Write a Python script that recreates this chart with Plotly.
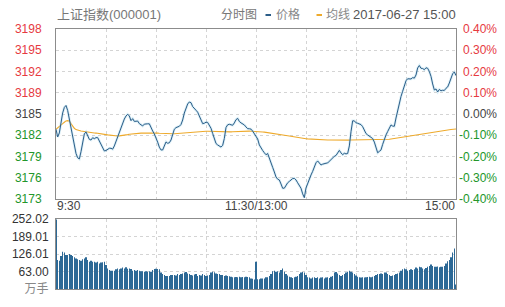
import pandas as pd
import plotly.graph_objects as go

# ---------------- data ----------------
prev_close = 3185.44
morning = pd.date_range("2017-06-27 09:30", "2017-06-27 11:30", freq="1min")
afternoon = pd.date_range("2017-06-27 13:01", "2017-06-27 15:00", freq="1min")
times = [t.strftime("%H:%M") for t in morning] + [t.strftime("%H:%M") for t in afternoon]

price = [
    3183.15, 3181.99, 3182.6, 3184.29, 3185.6, 3186.42, 3186.72, 3185.97, 3184.59, 3183.2,
    3181.77, 3180.54, 3179.52, 3178.88, 3178.7, 3179.79, 3181.47, 3182.45, 3182.75, 3182.3,
    3181.64, 3181.54, 3181.89, 3181.74, 3181.9, 3181.9, 3181.34, 3180.8, 3180.26, 3179.9,
    3179.97, 3180.2, 3180.3, 3180.3, 3180.17, 3180.65, 3181.35, 3182.07, 3182.82, 3183.45,
    3184.14, 3184.69, 3185.14, 3185.4, 3185.14, 3184.44, 3184.74, 3184.33, 3184.35, 3184.39,
    3184.0, 3183.8, 3183.65, 3183.92, 3184.0, 3183.97, 3183.97, 3183.54, 3182.9, 3182.45,
    3181.92, 3181.22, 3180.47, 3180.05, 3180.05, 3180.8, 3181.25, 3181.05, 3181.13, 3181.54,
    3182.25, 3183.16, 3183.4, 3183.52, 3183.6, 3183.87, 3184.54, 3185.59, 3186.46, 3186.94,
    3187.24, 3187.14, 3186.55, 3186.19, 3186.0, 3185.71, 3185.17, 3184.54, 3184.0, 3184.06,
    3184.21, 3184.17, 3183.8, 3183.3, 3182.52, 3181.7, 3181.02, 3180.8, 3180.59, 3180.48,
    3180.74, 3181.77, 3183.42, 3183.82, 3183.9, 3183.81, 3183.75, 3184.1, 3184.59, 3184.78,
    3184.32, 3184.11, 3184.0, 3183.8, 3183.5, 3183.24, 3183.23, 3183.17, 3182.87, 3182.54,
    3182.1,
    3181.7, 3180.8, 3180.27, 3179.97, 3179.63, 3179.33, 3179.52, 3178.92, 3178.14, 3177.44,
    3176.75, 3176.0, 3175.67, 3175.55, 3174.95, 3174.31, 3174.32, 3174.76, 3175.13, 3175.34,
    3175.55, 3175.76, 3175.8, 3175.55, 3175.13, 3174.71, 3174.31, 3173.47, 3172.9, 3174.35,
    3175.06, 3175.67, 3176.3, 3176.84, 3177.55, 3178.13, 3178.4, 3178.01, 3177.8, 3177.92,
    3178.03, 3178.06, 3178.1, 3178.35, 3178.65, 3178.91, 3179.1, 3179.22, 3179.55, 3179.99,
    3179.61, 3179.34, 3179.55, 3179.46, 3179.52, 3180.65, 3182.79, 3184.42, 3184.41, 3184.12,
    3184.05, 3183.96, 3183.85, 3183.54, 3182.96, 3182.51, 3182.3, 3182.09, 3181.98, 3181.76,
    3181.23, 3180.39, 3179.63, 3179.84, 3180.05, 3180.89, 3181.73, 3182.3, 3182.81, 3183.38,
    3183.8, 3183.63, 3183.6, 3184.84, 3185.89, 3187.3, 3188.07, 3188.85, 3189.64, 3190.42,
    3190.72, 3190.75, 3190.69, 3190.89, 3190.82, 3191.29, 3192.34, 3192.71, 3192.29, 3192.26,
    3192.08, 3192.37, 3192.29, 3191.81, 3191.08, 3189.94, 3189.04, 3189.19, 3188.74, 3189.12,
    3188.92, 3189.0, 3188.97, 3189.3, 3189.49, 3190.09, 3190.91, 3191.47, 3191.74, 3191.2,
]

avg_line = [
    3183.15, 3183.4, 3183.6, 3183.8, 3184.0, 3184.2, 3184.4, 3184.45, 3184.4, 3184.0,
    3183.6, 3183.3, 3183.1, 3183.0, 3182.92, 3182.88, 3182.85, 3182.8, 3182.77, 3182.72,
    3182.69, 3182.66, 3182.63, 3182.6, 3182.58, 3182.56, 3182.53, 3182.49, 3182.45, 3182.4,
    3182.35, 3182.31, 3182.27, 3182.23, 3182.2, 3182.17, 3182.15, 3182.15, 3182.16, 3182.18,
    3182.2, 3182.25, 3182.3, 3182.35, 3182.4, 3182.44, 3182.48, 3182.5, 3182.52, 3182.54,
    3182.56, 3182.58, 3182.59, 3182.6, 3182.61, 3182.62, 3182.62, 3182.62, 3182.62, 3182.61,
    3182.6, 3182.58, 3182.55, 3182.53, 3182.5, 3182.48, 3182.47, 3182.46, 3182.46, 3182.46,
    3182.47, 3182.48, 3182.5, 3182.52, 3182.54, 3182.57, 3182.6, 3182.64, 3182.68, 3182.72,
    3182.75, 3182.78, 3182.8, 3182.82, 3182.84, 3182.85, 3182.86, 3182.86, 3182.86, 3182.86,
    3182.86, 3182.85, 3182.84, 3182.83, 3182.81, 3182.79, 3182.77, 3182.75, 3182.73, 3182.71,
    3182.7, 3182.7, 3182.71, 3182.72, 3182.74, 3182.76, 3182.78, 3182.8, 3182.82, 3182.84,
    3182.85, 3182.86, 3182.87, 3182.87, 3182.87, 3182.87, 3182.87, 3182.86, 3182.86, 3182.85,
    3182.84,
    3182.82, 3182.8, 3182.78, 3182.75, 3182.72, 3182.69, 3182.66, 3182.63, 3182.6, 3182.56,
    3182.52, 3182.48, 3182.44, 3182.4, 3182.36, 3182.31, 3182.27, 3182.22, 3182.18, 3182.13,
    3182.09, 3182.05, 3182.01, 3181.97, 3181.93, 3181.89, 3181.85, 3181.81, 3181.77, 3181.74,
    3181.71, 3181.69, 3181.67, 3181.65, 3181.63, 3181.62, 3181.61, 3181.6, 3181.59, 3181.58,
    3181.57, 3181.56, 3181.55, 3181.55, 3181.54, 3181.54, 3181.54, 3181.54, 3181.54, 3181.53,
    3181.53, 3181.53, 3181.53, 3181.53, 3181.53, 3181.53, 3181.54, 3181.54, 3181.54, 3181.54,
    3181.54, 3181.54, 3181.54, 3181.54, 3181.54, 3181.54, 3181.54, 3181.54, 3181.54, 3181.54,
    3181.54, 3181.54, 3181.54, 3181.54, 3181.54, 3181.56, 3181.58, 3181.6, 3181.62, 3181.65,
    3181.69, 3181.73, 3181.77, 3181.82, 3181.87, 3181.92, 3181.97, 3182.02, 3182.07, 3182.12,
    3182.17, 3182.22, 3182.26, 3182.3, 3182.34, 3182.38, 3182.42, 3182.46, 3182.5, 3182.54,
    3182.58, 3182.62, 3182.66, 3182.7, 3182.74, 3182.78, 3182.81, 3182.84, 3182.87, 3182.9,
    3182.93, 3182.96, 3182.99, 3183.02, 3183.05, 3183.08, 3183.11, 3183.14, 3183.17, 3183.2,
]

volume = [
    250, 104, 102, 119, 134, 131, 122, 122, 126, 122,
    119, 114, 110, 107, 104, 102, 107, 110, 114, 104,
    98, 102, 98, 98, 95, 98, 92, 95, 96, 98,
    86, 74, 68, 66, 66, 66, 71, 74, 71, 74,
    77, 74, 78, 73, 74, 72, 66, 68, 66, 68,
    66, 64, 64, 62, 64, 62, 64, 62, 68, 72,
    73, 72, 71, 59, 54, 50, 47, 47, 47, 50,
    50, 50, 49, 54, 50, 54, 56, 59, 61, 56,
    54, 50, 49, 52, 54, 47, 50, 49, 54, 50,
    47, 49, 50, 59, 62, 60, 56, 54, 54, 50,
    50, 47, 49, 47, 46, 44, 42, 42, 43, 42,
    44, 42, 43, 42, 44, 43, 42, 38, 37, 34,
    98,
    35, 35, 38, 38, 38, 42, 42, 47, 54, 64,
    66, 62, 64, 59, 68, 74, 62, 54, 49, 44,
    42, 40, 42, 44, 47, 54, 59, 61, 59, 50,
    42, 41, 38, 41, 42, 40, 42, 38, 41, 42,
    38, 41, 42, 40, 44, 47, 59, 61, 56, 50,
    47, 50, 54, 59, 62, 66, 62, 59, 54, 49,
    44, 42, 41, 42, 41, 42, 43, 44, 42, 44,
    47, 50, 54, 54, 56, 54, 59, 59, 54, 50,
    47, 49, 50, 54, 56, 59, 66, 71, 74, 71,
    66, 68, 71, 68, 71, 77, 74, 80, 78, 74,
    71, 76, 80, 83, 88, 83, 80, 80, 81, 78,
    80, 80, 83, 92, 100, 104, 114, 131, 146, 16,
]

pct_steps = [4, 3, 2, 1, 0, -1, -2, -3, -4]          # in 0.1 %
price_labels = ["3198", "3195", "3192", "3189", "3185", "3182", "3179", "3176", "3173"]
pct_labels = ["0.40%", "0.30%", "0.20%", "0.10%", "0.00%", "-0.10%", "-0.20%", "-0.30%", "-0.40%"]
vol_max = 252.02
vol_labels = ["万手", "63.00", "126.01", "189.01", "252.02"]
time_labels = ["9:30", "11:30/13:00", "15:00"]
title_text = "上证指数(000001)"
chart_type = "分时图"
legend_price = "价格"
legend_avg = "均线"
stamp = "2017-06-27 15:00"

# ---------------- style ----------------
RED = "#e63a3f"
GREEN = "#22962a"
MID = "#444444"
PRICE_C = "#2b5d88"
AVG_C = "#eeaa2c"
VOL_C = "#2d6996"
FRAME = "#8c8c8c"
GRID = "#d4d4d4"
FONT = "Liberation Sans, Arial, Noto Sans CJK SC, sans-serif"

levels = [prev_close * (1 + s / 1000) for s in pct_steps]
lo, hi = levels[-1], levels[0]


def col(s):
    return RED if s > 0 else (GREEN if s < 0 else MID)


left_text = [f"<span style='color:{col(s)}'>{t}</span>" for s, t in zip(pct_steps, price_labels)]
vol_vals = [vol_max * k / 4 for k in range(5)]
vol_text = [f"<span style='color:#888'>{vol_labels[0]}</span>"] + [
    f"<span style='color:#333'>{t}</span>" for t in vol_labels[1:]
]

grid_ticks = [times[i] for i in range(0, len(times), 30)]

fig = go.Figure()
fig.add_trace(go.Scatter(x=times, y=avg_line, mode="lines",
                         line=dict(color=AVG_C, width=1.1), xaxis="x", yaxis="y",
                         hoverinfo="skip"))
fig.add_trace(go.Scatter(x=times, y=price, mode="lines",
                         line=dict(color="rgba(150,205,230,0.35)", width=2.6), xaxis="x", yaxis="y",
                         hoverinfo="skip"))
fig.add_trace(go.Scatter(x=times, y=price, mode="lines",
                         line=dict(color=PRICE_C, width=1), xaxis="x", yaxis="y"))
fig.add_trace(go.Bar(x=times, y=volume, marker=dict(color=VOL_C, line=dict(width=0)),
                     xaxis="x2", yaxis="y2"))

PW, PH, ML, MT, MB = 400, 260, 56, 29, 18


def px_x(px):
    return (px - ML) / PW


def px_y(py):
    return (MT + PH - py) / PH


axis_common = dict(showline=True, mirror=True, linecolor=FRAME, linewidth=1,
                   showgrid=True, gridcolor=GRID, griddash="3px,3px", gridwidth=1,
                   zeroline=False, ticks="", fixedrange=True)

fig.update_layout(
    width=505, height=307,
    margin=dict(l=ML, r=505 - ML - PW, t=MT, b=MB),
    paper_bgcolor="white", plot_bgcolor="white",
    showlegend=False, bargap=0.6,
    font=dict(family=FONT, size=12, color="#444"),
    xaxis=dict(axis_common, domain=[0, 1], anchor="y", type="category",
               range=[0, len(times) - 1], tickvals=grid_ticks, showticklabels=False),
    yaxis=dict(axis_common, domain=[px_y(199), 1], anchor="x", range=[lo, hi],
               tickvals=levels, ticktext=left_text, ticklabelstandoff=11,
               tickfont=dict(size=12)),
    xaxis2=dict(axis_common, domain=[0, 1], anchor="y2", type="category", matches="x",
                range=[0, len(times) - 1], tickvals=grid_ticks, showticklabels=False),
    yaxis2=dict(axis_common, domain=[0, px_y(219)], anchor="x2", range=[0, vol_max],
                tickvals=vol_vals, ticktext=vol_text, ticklabelstandoff=4,
                tickfont=dict(size=12)),
)

ann = []
# right-hand percentage labels
for s, t, lv in zip(pct_steps, pct_labels, levels):
    ann.append(dict(x=px_x(499), xref="paper", y=lv, yref="y", text=t, showarrow=False,
                    xanchor="right", yanchor="middle", font=dict(size=12, color=col(s))))
# time labels
ty = px_y(206)
ann.append(dict(x=times[0], xref="x", y=ty, yref="paper", text=time_labels[0], showarrow=False,
                xanchor="left", yanchor="middle", xshift=-1, font=dict(size=12, color="#444")))
ann.append(dict(x=times[120], xref="x", y=ty, yref="paper", text=time_labels[1], showarrow=False,
                xanchor="center", yanchor="middle", font=dict(size=12, color="#444")))
ann.append(dict(x=times[-1], xref="x", y=ty, yref="paper", text=time_labels[2], showarrow=False,
                xanchor="right", yanchor="middle", xshift=1, font=dict(size=12, color="#444")))
# header
hy = px_y(15)
ann.append(dict(x=px_x(55), xref="paper", y=hy, yref="paper", text=title_text, showarrow=False,
                xanchor="left", yanchor="middle", font=dict(size=13, color="#777")))
ann.append(dict(x=px_x(219), xref="paper", y=hy, yref="paper", text=chart_type, showarrow=False,
                xanchor="left", yanchor="middle", font=dict(size=12, color="#777")))
ann.append(dict(x=px_x(274), xref="paper", y=hy, yref="paper", text=legend_price, showarrow=False,
                xanchor="left", yanchor="middle", font=dict(size=12, color="#888")))
ann.append(dict(x=px_x(324), xref="paper", y=hy, yref="paper", text=legend_avg, showarrow=False,
                xanchor="left", yanchor="middle", font=dict(size=12, color="#888")))
ann.append(dict(x=px_x(351), xref="paper", y=hy, yref="paper", text=stamp, showarrow=False,
                xanchor="left", yanchor="middle", font=dict(size=13, color="#555")))

shapes = [
    dict(type="line", xref="paper", yref="paper", x0=px_x(265.5), x1=px_x(271), y0=hy, y1=hy,
         line=dict(color=PRICE_C, width=2)),
    dict(type="line", xref="paper", yref="paper", x0=px_x(316.5), x1=px_x(322), y0=hy, y1=hy,
         line=dict(color=AVG_C, width=2)),
]

fig.update_layout(annotations=ann, shapes=shapes)
fig.write_html("out.html")
